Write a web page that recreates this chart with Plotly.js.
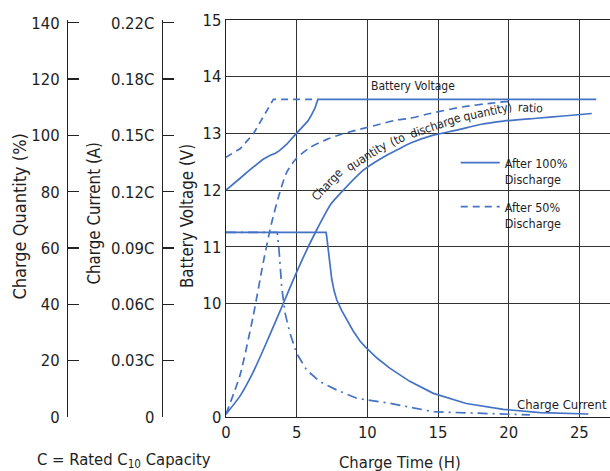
<!DOCTYPE html>
<html>
<head>
<meta charset="utf-8">
<script src="https://cdn.plot.ly/plotly-3.0.1.min.js"></script>
<style>html,body{margin:0;padding:0;background:#fff;}#chart{width:610px;height:471px;}</style>
</head>
<body>
<div id="chart"></div>
<script>
// ---------- data ----------
// Battery voltage (V)
const tVolt100 = [0, 0.5, 1.0, 1.6, 2.17, 2.6, 3.1, 3.5, 3.8, 4.3, 4.76, 5.1, 5.47, 5.8, 6.06, 6.3, 6.5, 26.2];
const volt100  = [12.0, 12.1, 12.21, 12.34, 12.46, 12.54, 12.61, 12.65, 12.70, 12.81, 12.94, 13.03, 13.12, 13.22, 13.33, 13.45, 13.60, 13.60];
const tVolt50  = [0, 1.0, 1.93, 2.64, 3.35, 6.5];
const volt50   = [12.58, 12.73, 12.99, 13.30, 13.60, 13.60];
// Charge quantity (%)
const tQty100 = [0, 1, 1.93, 3, 4.06, 4.76, 5.71, 6.42, 6.89, 7.4, 8.3, 9.72, 11.37, 12.08, 13.02, 14.67, 16.33, 17.98, 19.63, 21.99, 23.87, 25.88];
const qty100  = [1, 7.5, 16, 28, 40.4, 48.7, 59.3, 66.5, 71, 75.5, 80.6, 87.7, 93, 94.8, 97.2, 100.1, 101.9, 103.9, 105.1, 106.1, 106.9, 107.8];
const tQty50  = [0, 1, 1.93, 2.64, 3.23, 3.82, 4.3, 5.0, 5.94, 7.13, 8.2, 9.72, 10.67, 12.08, 13.02, 14.44, 16.8, 18.68, 20.1];
const qty50   = [1, 15, 36, 55, 69, 80, 87, 92, 95.7, 98.6, 100.5, 102.5, 103.7, 105.5, 106.1, 107.8, 110.2, 111.4, 112.2];
// Charge current (C)
const tCur100 = [0, 7.08, 7.12, 7.17, 7.24, 7.35, 7.48, 7.65, 7.84, 8.2, 8.55, 9.0, 9.48, 9.84, 10.7, 11.61, 13.0, 14.67, 17.0, 19.62, 22.22, 25.64];
const cur100  = [0.0984, 0.0984, 0.0965, 0.0935, 0.0880, 0.0800, 0.0735, 0.0672, 0.0623, 0.0565, 0.0517, 0.0458, 0.0405, 0.0375, 0.0313, 0.0259, 0.0190, 0.0126, 0.0072, 0.0041, 0.0023, 0.0016];
const tCur50  = [0, 3.63, 3.77, 3.94, 4.18, 4.53, 5.0, 5.71, 6.65, 7.83, 9.25, 11.6, 14.67, 19.62, 21.5];
const cur50   = [0.0984, 0.0984, 0.0872, 0.0694, 0.0553, 0.0446, 0.0339, 0.0250, 0.0188, 0.0144, 0.0100, 0.0073, 0.0028, 0.0014, 0.0011];
// Tick labels
const timeTicks = [0, 5, 10, 15, 20, 25];
const voltTickVals = [8, 10, 11, 12, 13, 14, 15];
const voltTickText = ['0', '10', '11', '12', '13', '14', '15'];
const qtyTickVals = [0, 20, 40, 60, 80, 100, 120, 140];
const curTickVals = [0, 0.03, 0.06, 0.09, 0.12, 0.15, 0.18, 0.21];
const curTickText = ['0', '0.03C', '0.06C', '0.09C', '0.12C', '0.15C', '0.18C', '0.22C'];

// ---------- style ----------
const W = 610, H = 471, TOP = 20, BOT = 417;
const FONT = '"DejaVu Sans Condensed", "DejaVu Sans", sans-serif';
const TXT = '#1e1e1e';
const BLUE = '#4472c4';
const LW = 1.7;
const px = x => x / W;
const py = y => (BOT - y) / (BOT - TOP);

const solid = {color: BLUE, width: LW};
const dashed = {color: BLUE, width: LW, dash: '8px,5px'};
const dashdot = {color: BLUE, width: LW, dash: '10px,5px,2px,5px'};
const smooth = (l, s) => Object.assign({shape: 'spline', smoothing: s}, l);

const traces = [
  {x: tVolt100, y: volt100, xaxis: 'x', yaxis: 'y', mode: 'lines', line: solid,
   name: 'After 100%<br>Discharge', showlegend: true, legend: 'legend', hoverinfo: 'skip'},
  {x: tVolt50, y: volt50, xaxis: 'x', yaxis: 'y', mode: 'lines', line: {color: BLUE, width: LW, dash: '7px,5px'},
   name: 'After 50%<br>Discharge', showlegend: true, legend: 'legend2', hoverinfo: 'skip'},
  {x: tQty100, y: qty100, xaxis: 'x', yaxis: 'y2', mode: 'lines', line: smooth(solid, 0.6), showlegend: false, hoverinfo: 'skip'},
  {x: tQty50, y: qty50, xaxis: 'x', yaxis: 'y2', mode: 'lines', line: smooth(dashed, 0.6), showlegend: false, hoverinfo: 'skip'},
  {x: tCur100, y: cur100, xaxis: 'x', yaxis: 'y3', mode: 'lines', line: solid, showlegend: false, hoverinfo: 'skip'},
  {x: tCur50, y: cur50, xaxis: 'x', yaxis: 'y3', mode: 'lines', line: dashdot, showlegend: false, hoverinfo: 'skip'}
];

const tickFont = {family: FONT, size: 16.5, color: TXT};
const axisLine = {showline: true, linecolor: '#222', linewidth: 1.3};

const ann = (text, x, y, opts) => Object.assign({
  text: text, xref: 'paper', yref: 'paper', x: px(x), y: py(y),
  xanchor: 'left', yanchor: 'middle', showarrow: false,
  font: {family: FONT, size: 12, color: TXT}
}, opts || {});

const annotations = [
  ann('Charge Quantity (%)', 18.5, 217, {xanchor: 'center', textangle: -90, font: {family: FONT, size: 18, color: TXT}}),
  ann('Charge Current (A)', 93, 213.5, {xanchor: 'center', textangle: -90, font: {family: FONT, size: 16.8, color: TXT}}),
  ann('Battery Voltage (V)', 187, 216, {xanchor: 'center', textangle: -90, font: {family: FONT, size: 16.8, color: TXT}}),
  ann('Charge Time (H)', 400, 462, {xanchor: 'center', font: {family: FONT, size: 16.5, color: TXT}}),
  ann('C = Rated C<sub>10</sub> Capacity', 35, 461, {font: {family: FONT, size: 16.5, color: TXT}}),
  ann('Battery Voltage', 369, 86),
  ann('Charge Current', 515, 404, {font: {family: FONT, size: 13, color: TXT}}),
  ann('Charge', 327, 185, {xanchor: 'center', textangle: -47}),
  ann('quantity', 367, 156, {xanchor: 'center', textangle: -32}),
  ann('(to', 397, 140, {xanchor: 'center', textangle: -25}),
  ann('discharge', 435, 126, {xanchor: 'center', textangle: -19}),
  ann('quantity)', 487, 112, {xanchor: 'center', textangle: -12}),
  ann('ratio', 530, 108, {xanchor: 'center', textangle: 3})
];

const legendBase = {
  bgcolor: 'rgba(0,0,0,0)', borderwidth: 0, valign: 'top',
  font: {family: FONT, size: 12.5, color: TXT}, xanchor: 'left', yanchor: 'top',
  itemwidth: 39, tracegroupgap: 0
};

const layout = {
  width: W, height: H,
  margin: {l: 0, r: 0, t: TOP, b: H - BOT},
  paper_bgcolor: '#fff', plot_bgcolor: '#fff',
  showlegend: true,
  legend: Object.assign({x: px(455.7), y: py(148)}, legendBase),
  legend2: Object.assign({x: px(455.7), y: py(192)}, legendBase),
  xaxis: Object.assign({
    domain: [226 / W, 1], range: [0, 27.17], tickmode: 'array', tickvals: timeTicks,
    showgrid: true, gridcolor: '#333', gridwidth: 1, zeroline: false, mirror: true,
    ticks: '', tickfont: tickFont, fixedrange: true
  }, axisLine),
  yaxis: Object.assign({
    range: [8, 15], tickmode: 'array', tickvals: voltTickVals, ticktext: voltTickText,
    showgrid: true, gridcolor: '#333', gridwidth: 1, zeroline: false,
    ticks: '', tickfont: tickFont, ticklabelstandoff: 0, fixedrange: true
  }, axisLine),
  yaxis2: Object.assign({
    overlaying: 'y', anchor: 'free', position: 67 / W, side: 'left',
    range: [0, 141], tickmode: 'array', tickvals: qtyTickVals,
    showgrid: false, zeroline: false, ticks: 'inside', ticklen: 11, tickwidth: 1.3, tickcolor: '#222',
    tickfont: tickFont, ticklabelstandoff: 4, fixedrange: true
  }, axisLine),
  yaxis3: Object.assign({
    overlaying: 'y', anchor: 'free', position: 161.7 / W, side: 'left',
    range: [0, 0.2115], tickmode: 'array', tickvals: curTickVals, ticktext: curTickText,
    showgrid: false, zeroline: false, ticks: 'inside', ticklen: 11, tickwidth: 1.3, tickcolor: '#222',
    tickfont: tickFont, ticklabelstandoff: 4, fixedrange: true
  }, axisLine),
  annotations: annotations
};

Plotly.newPlot('chart', traces, layout, {staticPlot: true, displayModeBar: false});
</script>
</body>
</html>
